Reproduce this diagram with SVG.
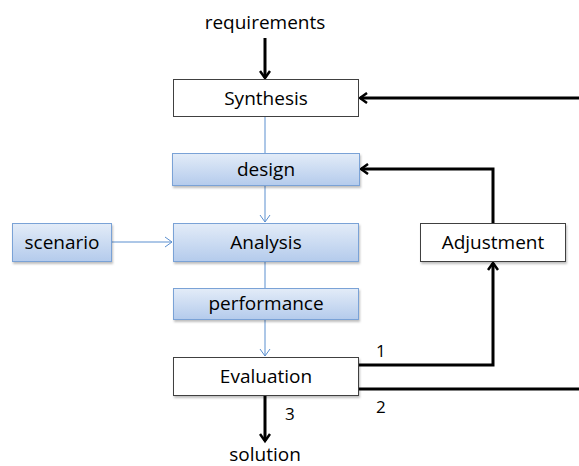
<svg xmlns="http://www.w3.org/2000/svg" width="579" height="466" viewBox="0 0 579 466">
<style>
text{font-family:"Open Sans","Liberation Sans",sans-serif;font-size:19px;fill:#000;text-anchor:middle}
.w{fill:#fff;stroke:#404040;stroke-width:1}
.b{fill:url(#g);stroke:#7aa2d6;stroke-width:1}
.k{stroke:#000;stroke-width:3;fill:none}
.bl{stroke:#5b8fcf;stroke-width:1;fill:none}
.lbl{text-anchor:start;font-size:17px}
</style>
<defs>
<linearGradient id="g" x1="0" y1="0" x2="0" y2="1">
<stop offset="0" stop-color="#e3ecf8"/>
<stop offset="1" stop-color="#b4cbec"/>
</linearGradient>
<marker id="ak" markerWidth="12" markerHeight="12" refX="9" refY="6" orient="auto" markerUnits="userSpaceOnUse">
<path d="M2,1 L9,6 L2,11" fill="none" stroke="#000" stroke-width="2.5"/>
</marker>
<marker id="ab" markerWidth="12" markerHeight="12" refX="10" refY="6" orient="auto" markerUnits="userSpaceOnUse">
<path d="M3,1 L10,6 L3,11" fill="none" stroke="#5b8fcf" stroke-width="1"/>
</marker>
<filter id="sh" x="-10%" y="-10%" width="120%" height="140%">
<feDropShadow dx="1" dy="2" stdDeviation="1.2" flood-color="#000" flood-opacity="0.25"/>
</filter>
</defs>
<g id="connectors">
<line class="k" x1="265" y1="38" x2="265" y2="78" marker-end="url(#ak)"/>
<line class="bl" x1="265" y1="117" x2="265" y2="153"/>
<line class="bl" x1="265" y1="186" x2="265" y2="222" marker-end="url(#ab)"/>
<line class="bl" x1="112" y1="242" x2="172" y2="242" marker-end="url(#ab)"/>
<line class="bl" x1="265" y1="261" x2="265" y2="288"/>
<line class="bl" x1="265" y1="319" x2="265" y2="356" marker-end="url(#ab)"/>
<line class="k" x1="265" y1="396" x2="265" y2="441" marker-end="url(#ak)"/>
<line class="k" x1="579" y1="98" x2="360" y2="98" marker-end="url(#ak)"/>
<polyline class="k" points="493,223 493,169 361,169" marker-end="url(#ak)"/>
<polyline class="k" points="359,365 493,365 493,263" marker-end="url(#ak)"/>
<line class="k" x1="359" y1="389" x2="579" y2="389"/>
</g>
<g id="requirements"><text x="265" y="29">requirements</text></g>
<g id="synthesis"><rect class="w" x="173.5" y="79.5" width="185" height="37"/><text x="266" y="105">Synthesis</text></g>
<g id="design"><rect class="b" x="172.5" y="153.5" width="187" height="32" filter="url(#sh)"/><text x="266" y="176">design</text></g>
<g id="scenario"><rect class="b" x="12.5" y="223.5" width="99" height="38" filter="url(#sh)"/><text x="62" y="249">scenario</text></g>
<g id="analysis"><rect class="b" x="173.5" y="223.5" width="185" height="38" filter="url(#sh)"/><text x="266" y="249">Analysis</text></g>
<g id="performance"><rect class="b" x="173.5" y="288.5" width="185" height="31" filter="url(#sh)"/><text x="266" y="310">performance</text></g>
<g id="evaluation"><rect class="w" x="173.5" y="357.5" width="185" height="38" filter="url(#sh)"/><text x="266" y="383">Evaluation</text></g>
<g id="adjustment"><rect class="w" x="420.5" y="223.5" width="145" height="38" filter="url(#sh)"/><text x="493" y="249">Adjustment</text></g>
<g id="solution"><text x="265" y="461">solution</text></g>
<g id="labels">
<text class="lbl" x="376" y="357">1</text>
<text class="lbl" x="376" y="413">2</text>
<text class="lbl" x="285" y="420">3</text>
</g>
</svg>
